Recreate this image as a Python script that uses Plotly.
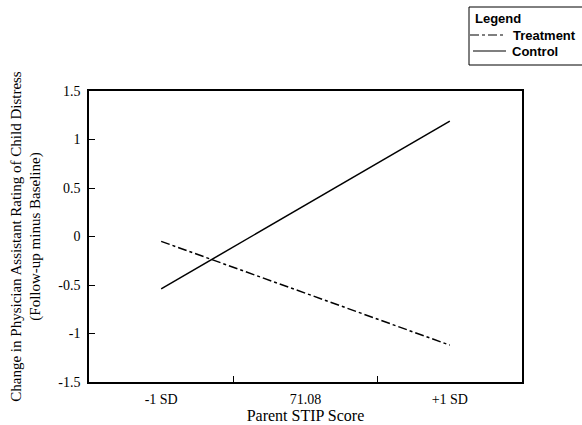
import plotly.graph_objects as go

categories = ["-1 SD", "71.08", "+1 SD"]
line_x = ["-1 SD", "+1 SD"]
treatment = [-0.05, -1.12]
control = [-0.54, 1.19]

W, H = 582, 425
L, R, T, B = 89, 60, 91, 43
pw, ph = W - L - R, H - T - B


def px(xp):
    return (xp - L) / pw


def py(yp):
    return (H - B - yp) / ph


fig = go.Figure()
fig.add_trace(go.Scatter(x=line_x, y=treatment, mode="lines", name="Treatment",
                         line=dict(color="black", width=1.5, dash="dashdot")))
fig.add_trace(go.Scatter(x=line_x, y=control, mode="lines", name="Control",
                         line=dict(color="black", width=1.5)))

serif = "Liberation Serif, Times New Roman, serif"
sans = "Liberation Sans, Arial, sans-serif"

# manual legend box
fig.add_shape(type="rect", xref="paper", yref="paper",
              x0=px(469), x1=px(590), y0=py(65), y1=py(7),
              line=dict(color="black", width=1), fillcolor="white")
fig.add_shape(type="line", xref="paper", yref="paper",
              x0=px(470), x1=px(505), y0=py(35), y1=py(35),
              line=dict(color="black", width=1.2, dash="dashdot"))
fig.add_shape(type="line", xref="paper", yref="paper",
              x0=px(473), x1=px(506), y0=py(51), y1=py(51),
              line=dict(color="black", width=1.2))
for txt, xx, yy in [("Legend", 473, 18), ("Treatment", 511, 35), ("Control", 510, 51)]:
    fig.add_annotation(text="<b>" + txt + "</b>", xref="paper", yref="paper",
                       x=px(xx), y=py(yy), xanchor="left", yanchor="middle",
                       showarrow=False, font=dict(family=sans, size=13, color="black"))

fig.update_layout(
    width=W, height=H,
    margin=dict(l=L, r=R, t=T, b=B, autoexpand=False),
    plot_bgcolor="white", paper_bgcolor="white",
    showlegend=False,
    font=dict(family=serif, size=14, color="black"),
    xaxis=dict(
        type="category", categoryorder="array", categoryarray=categories,
        range=[-0.5, 2.5], tickson="boundaries", ticks="inside", ticklen=6,
        tickcolor="black", showline=True, linecolor="black", linewidth=1.5,
        mirror=True, showgrid=False, zeroline=False, automargin=False,
        tickfont=dict(family=serif, size=14), ticklabelstandoff=3,
        title=dict(text="Parent STIP Score", font=dict(family=serif, size=16), standoff=4),
    ),
    yaxis=dict(
        range=[-1.5, 1.5], tickvals=[-1.5, -1, -0.5, 0, 0.5, 1, 1.5],
        ticktext=["-1.5", "-1", "-0.5", "0", "0.5", "1", "1.5"],
        ticks="inside", ticklen=6, tickcolor="black",
        showline=True, linecolor="black", linewidth=1.5, mirror=True,
        showgrid=False, zeroline=False, automargin=False,
        tickfont=dict(family=serif, size=14), ticklabelstandoff=4,
        title=dict(text="Change in Physician Assistant Rating of Child Distress<br>(Follow-up minus Baseline)",
                   font=dict(family=serif, size=15), standoff=14),
    ),
)
fig.write_html("out.html", config={"displayModeBar": False},
               post_script="document.body.style.margin='0';")
